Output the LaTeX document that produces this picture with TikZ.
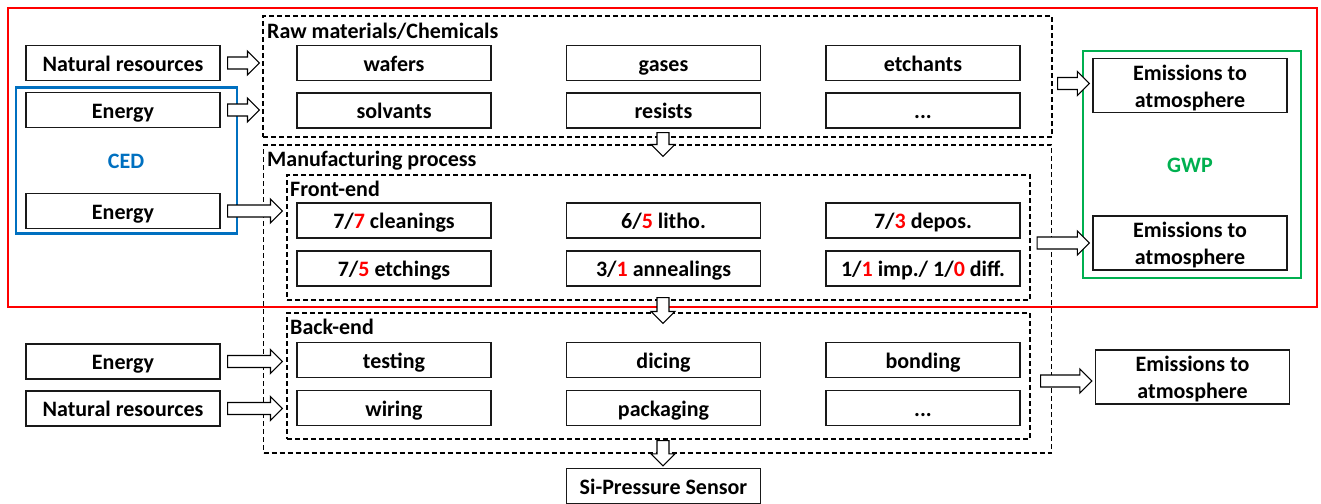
\documentclass[tikz,border=0pt]{standalone}
\usepackage{fontspec}
\setmainfont{Carlito}
\usetikzlibrary{calc}
\definecolor{cedblue}{RGB}{0,112,192}
\definecolor{gwpgreen}{RGB}{0,176,80}
\definecolor{redbox}{RGB}{255,0,0}
\newcommand\R[1]{\textcolor{redbox}{#1}}
\newcommand\hblk[2]{\draw[barrow] let \p1=(#1), \p2=(#2) in (\x1,\y1+6pt) -- (\x2-12pt,\y1+6pt) -- (\x2-12pt,\y1+12pt) -- (\x2,\y1) -- (\x2-12pt,\y1-12pt) -- (\x2-12pt,\y1-6pt) -- (\x1,\y1-6pt) -- cycle;}
\newcommand\vblk[2]{\draw[barrow] let \p1=(#1), \p2=(#2) in (\x1-6pt,\y1) -- (\x1-6pt,\y2+12pt) -- (\x1-12pt,\y2+12pt) -- (\x1,\y2) -- (\x1+12pt,\y2+12pt) -- (\x1+6pt,\y2+12pt) -- (\x1+6pt,\y1) -- cycle;}
\tikzset{
  fnt/.style={font=\fontsize{22}{27}\selectfont\bfseries},
  frame/.style={fnt, draw=black!90, line width=1.2pt, minimum width=194pt, inner sep=0pt, align=center},
  box/.style={frame, minimum height=35pt, text height=17pt, text depth=1pt},
  ebox/.style={frame, minimum height=54pt, text height=44pt, text depth=1pt},
  grp/.style={draw=black, line width=1.1pt, dash pattern=on 5pt off 3pt, inner sep=0pt},
  lbl/.style={fnt, anchor=west, inner sep=0pt, text height=15pt, text depth=4pt},
  barrow/.style={draw=black, fill=white, line width=1.1pt},
}
\begin{document}
\begin{tikzpicture}[x=1pt,y=-1pt]
\useasboundingbox (0,0) rectangle (1321,503);
% group boxes
\node[grp, minimum width=789pt, minimum height=121pt] (raw) at (657.5,76.5) {};
\node[grp, minimum width=788pt, minimum height=308pt] (man) at (657.5,299) {};
\node[grp, minimum width=743pt, minimum height=125pt] (fe) at (658.5,237.5) {};
\node[grp, minimum width=743pt, minimum height=126pt] (be) at (658.5,376) {};
\node[lbl] (rawl) at (267,33) {Raw materials/Chemicals};
\node[lbl] (manl) at (267,161) {Manufacturing process};
\node[lbl] (fel) at (290,191) {Front-end};
\node[lbl] (bel) at (290,329) {Back-end};
% raw materials
\node[box] (wafers) at (394,63) {wafers};
\node[box] (gases) at (663.5,63) {gases};
\node[box] (etch) at (923,63) {etchants};
\node[box] (solv) at (394,110.5) {solvants};
\node[box] (resists) at (663.5,110.5) {resists};
\node[box] (rawdots) at (923,110.5) {...};
% front-end
\node[box] (clean) at (394,220.5) {7/\R{7} cleanings};
\node[box] (litho) at (663.5,220.5) {6/\R{5} litho.};
\node[box] (depos) at (923,220.5) {7/\R{3} depos.};
\node[box] (etchg) at (394,268.5) {7/\R{5} etchings};
\node[box] (anneal) at (663.5,268.5) {3/\R{1} annealings};
\node[box] (imp) at (923,268.5) {1/\R{1} imp./ 1/\R{0} diff.};
% back-end
\node[box] (test) at (394,360) {testing};
\node[box] (dice) at (663.5,360) {dicing};
\node[box] (bond) at (923,360) {bonding};
\node[box] (wire) at (394,408) {wiring};
\node[box] (pack) at (663.5,408) {packaging};
\node[box] (bedots) at (923,408) {...};
% left inputs
\node[box] (nat1) at (123,63) {Natural resources};
\node[box] (en1) at (123,110) {Energy};
\node[box] (en2) at (123,211) {Energy};
\node[box] (en3) at (123,361.5) {Energy};
\node[box] (nat2) at (123,408.5) {Natural resources};
% outputs
\node[ebox] (em1) at (1190,85.5) {Emissions to\\atmosphere};
\node[ebox] (em2) at (1190,243) {Emissions to\\atmosphere};
\node[ebox] (em3) at (1192.5,377) {Emissions to\\atmosphere};
\node[box] (si) at (663.5,486) {Si-Pressure Sensor};
% highlight boxes
\node[draw=cedblue, line width=2.8pt, minimum width=221pt, minimum height=146pt, inner sep=0pt] (ced) at (126.5,160.5) {};
\node[fnt, text=cedblue] (cedl) at (126,161) {CED};
\node[draw=gwpgreen, line width=2.8pt, minimum width=218pt, minimum height=227pt, inner sep=0pt] (gwp) at (1192,164.5) {};
\node[fnt, text=gwpgreen] (gwpl) at (1190,165) {GWP};
\node[draw=redbox, line width=2.8pt, minimum width=1309pt, minimum height=299pt, inner sep=0pt] (lca) at (662.5,157.5) {};
% block arrows
\hblk{$(nat1.east)+(7,0)$}{$(raw.west|-nat1)+(-3,0)$}
\hblk{$(en1.east)+(7,0)$}{$(raw.west|-en1)+(-3,0)$}
\hblk{$(en2.east)+(7,0)$}{$(fe.west|-en2)+(-4,0)$}
\hblk{$(raw.east|-em1)+(5,-2)$}{$(em1.west)+(-3,-2)$}
\hblk{$(man.east|-em2)+(-15,0)$}{$(em2.west)+(-3,0)$}
\hblk{$(en3.east)+(7,0)$}{$(be.west|-en3)+(-4,0)$}
\hblk{$(nat2.east)+(7,0)$}{$(be.west|-nat2)+(-4,0)$}
\hblk{$(be.east|-em3)+(10,4)$}{$(em3.west)+(-3,4)$}
\vblk{$(raw.south)+(5.5,-5)$}{$(man.north)+(5.5,12)$}
\vblk{$(fe.south)+(4.5,-3)$}{$(be.north)+(4.5,11)$}
\vblk{$(be.south)+(4.5,1)$}{$(si.north)+(0,-2)$}
\end{tikzpicture}
\end{document}
